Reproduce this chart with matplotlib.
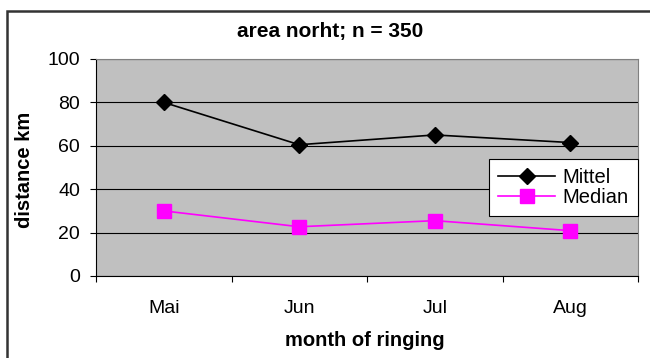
import matplotlib
matplotlib.use("Agg")
import matplotlib.pyplot as plt
from matplotlib.patches import Rectangle

plt.rcParams['font.family'] = ['Liberation Sans', 'DejaVu Sans']

# data
months = ["Mai", "Jun", "Jul", "Aug"]
mittel = [80, 60.5, 65, 61.5]
median = [30, 22.7, 25.5, 20.9]
y_ticks = [0, 20, 40, 60, 80, 100]

W, H = 650, 358
fig = plt.figure(figsize=(W / 100, H / 100), dpi=100)
fig.patch.set_facecolor("white")

# outer chart frame (runs off the right and bottom edge like the original)
fig.patches.append(Rectangle((7 / W, -0.2), 1.5, 1.2 - 11 / H,
                             transform=fig.transFigure, fill=False,
                             edgecolor="#333333", linewidth=1.8))

# plot area in pixels: x 96..638, y 59..276
ax = fig.add_axes([96 / W, (H - 276) / H, 542 / W, 217 / H])
ax.set_facecolor("#c0c0c0")

x = list(range(len(months)))
ax.plot(x, mittel, color="black", linewidth=1.2, marker="D", markersize=8,
        label="Mittel", zorder=3)
ax.plot(x, median, color="#ff00ff", linewidth=1.2, marker="s", markersize=10,
        label="Median", zorder=3)

ax.set_xlim(-0.5, len(months) - 0.5)
ax.set_ylim(0, 100)
ax.set_yticks(y_ticks)
ax.yaxis.grid(True, color="black", linewidth=0.8)
ax.set_axisbelow(True)

# month labels centred, tick marks at the category borders
ax.set_xticks(x)
ax.set_xticklabels(months, fontsize=14)
ax.set_xticks([i - 0.5 for i in range(len(months) + 1)], minor=True)
ax.tick_params(axis="x", which="major", length=0, pad=17)
ax.tick_params(axis="x", which="minor", length=4.5, direction="out", width=0.8)
ax.tick_params(axis="y", length=4.5, width=0.8, labelsize=14, pad=7)

for side in ["top", "right"]:
    ax.spines[side].set_color("#808080")
ax.spines["left"].set_color("black")
ax.spines["bottom"].set_color("black")

fig.text(330 / W, 1 - 32 / H, "area norht; n = 350", fontsize=15,
         fontweight="bold", ha="center", va="center")
fig.text(365 / W, 1 - 340 / H, "month of ringing", fontsize=14.5,
         fontweight="bold", ha="center", va="center")
fig.text(25 / W, 1 - 170 / H, "distance km", fontsize=14.5,
         fontweight="bold", ha="center", va="center", rotation=90)

leg = ax.legend(loc="upper right", bbox_to_anchor=(1.0, 0.539), borderaxespad=0,
                fontsize=14.5, frameon=True, fancybox=False, framealpha=1,
                handlelength=2.8, handletextpad=0.4, labelspacing=0.05,
                borderpad=0.45)
leg.get_frame().set_edgecolor("black")
leg.get_frame().set_linewidth(0.8)

fig.savefig("out.png", dpi=100)
